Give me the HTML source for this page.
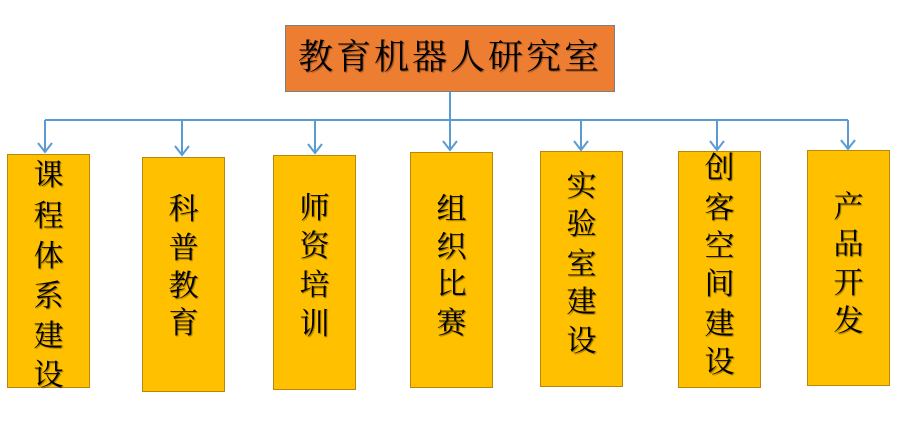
<!DOCTYPE html>
<html><head><meta charset="utf-8"><style>
body{margin:0;width:902px;height:430px;background:#fff;position:relative;overflow:hidden;font-family:"Liberation Serif","Noto Serif CJK SC",serif;}
.t{position:absolute;left:285px;top:25px;width:328px;height:65px;background:#ED7D31;border:1px solid #7a7f86;color:#000;font-size:35px;letter-spacing:3px;line-height:63px;text-align:center;text-shadow:1px 1px 1px rgba(0,0,0,.4);}
.b{position:absolute;width:83px;background:#FFC000;border:1px solid #B8860B;box-sizing:border-box;}
.b span{position:absolute;left:0;width:100%;margin-top:-4px;text-align:center;font-size:30px;line-height:30px;text-shadow:1px 1px 1px rgba(0,0,0,.45);}
</style></head><body>
<svg width="902" height="430" style="position:absolute;left:0;top:0" fill="none" stroke="#5B9BD5" stroke-width="2">
<path d="M450 92V120M45 120H848"/>
<g>
<path d="M45 120V152M38 143L45 152L52 143"/>
<path d="M182 120V155M175 146L182 155L189 146"/>
<path d="M315 120V153M308 144L315 153L322 144"/>
<path d="M450 120V150M443 141L450 150L457 141"/>
<path d="M581 120V150M574 141L581 150L588 141"/>
<path d="M717 120V150M710 141L717 150L724 141"/>
<path d="M848 120V149M841 140L848 149L855 140"/>
</g></svg>
<div class="t">教育机器人研究室</div>
<div class="b" style="left:7px;top:154px;height:234px"><span style="top:10px">课</span><span style="top:51px">程</span><span style="top:91px">体</span><span style="top:131px">系</span><span style="top:171px">建</span><span style="top:210px">设</span></div>
<div class="b" style="left:142px;top:157px;height:235px"><span style="top:41px">科</span><span style="top:80px">普</span><span style="top:118px">教</span><span style="top:155px">育</span></div>
<div class="b" style="left:273px;top:155px;height:235px"><span style="top:42px">师</span><span style="top:80px">资</span><span style="top:119px">培</span><span style="top:158px">训</span></div>
<div class="b" style="left:410px;top:152px;height:236px"><span style="top:46px">组</span><span style="top:84px">织</span><span style="top:121px">比</span><span style="top:160px">赛</span></div>
<div class="b" style="left:540px;top:151px;height:236px"><span style="top:24px">实</span><span style="top:62px">验</span><span style="top:102px">室</span><span style="top:140px">建</span><span style="top:179px">设</span></div>
<div class="b" style="left:678px;top:151px;height:237px"><span style="top:6px">创</span><span style="top:46px">客</span><span style="top:84px">空</span><span style="top:122px">间</span><span style="top:162px">建</span><span style="top:200px">设</span></div>
<div class="b" style="left:807px;top:150px;height:236px"><span style="top:46px">产</span><span style="top:83px">品</span><span style="top:122px">开</span><span style="top:160px">发</span></div>
</body></html>
